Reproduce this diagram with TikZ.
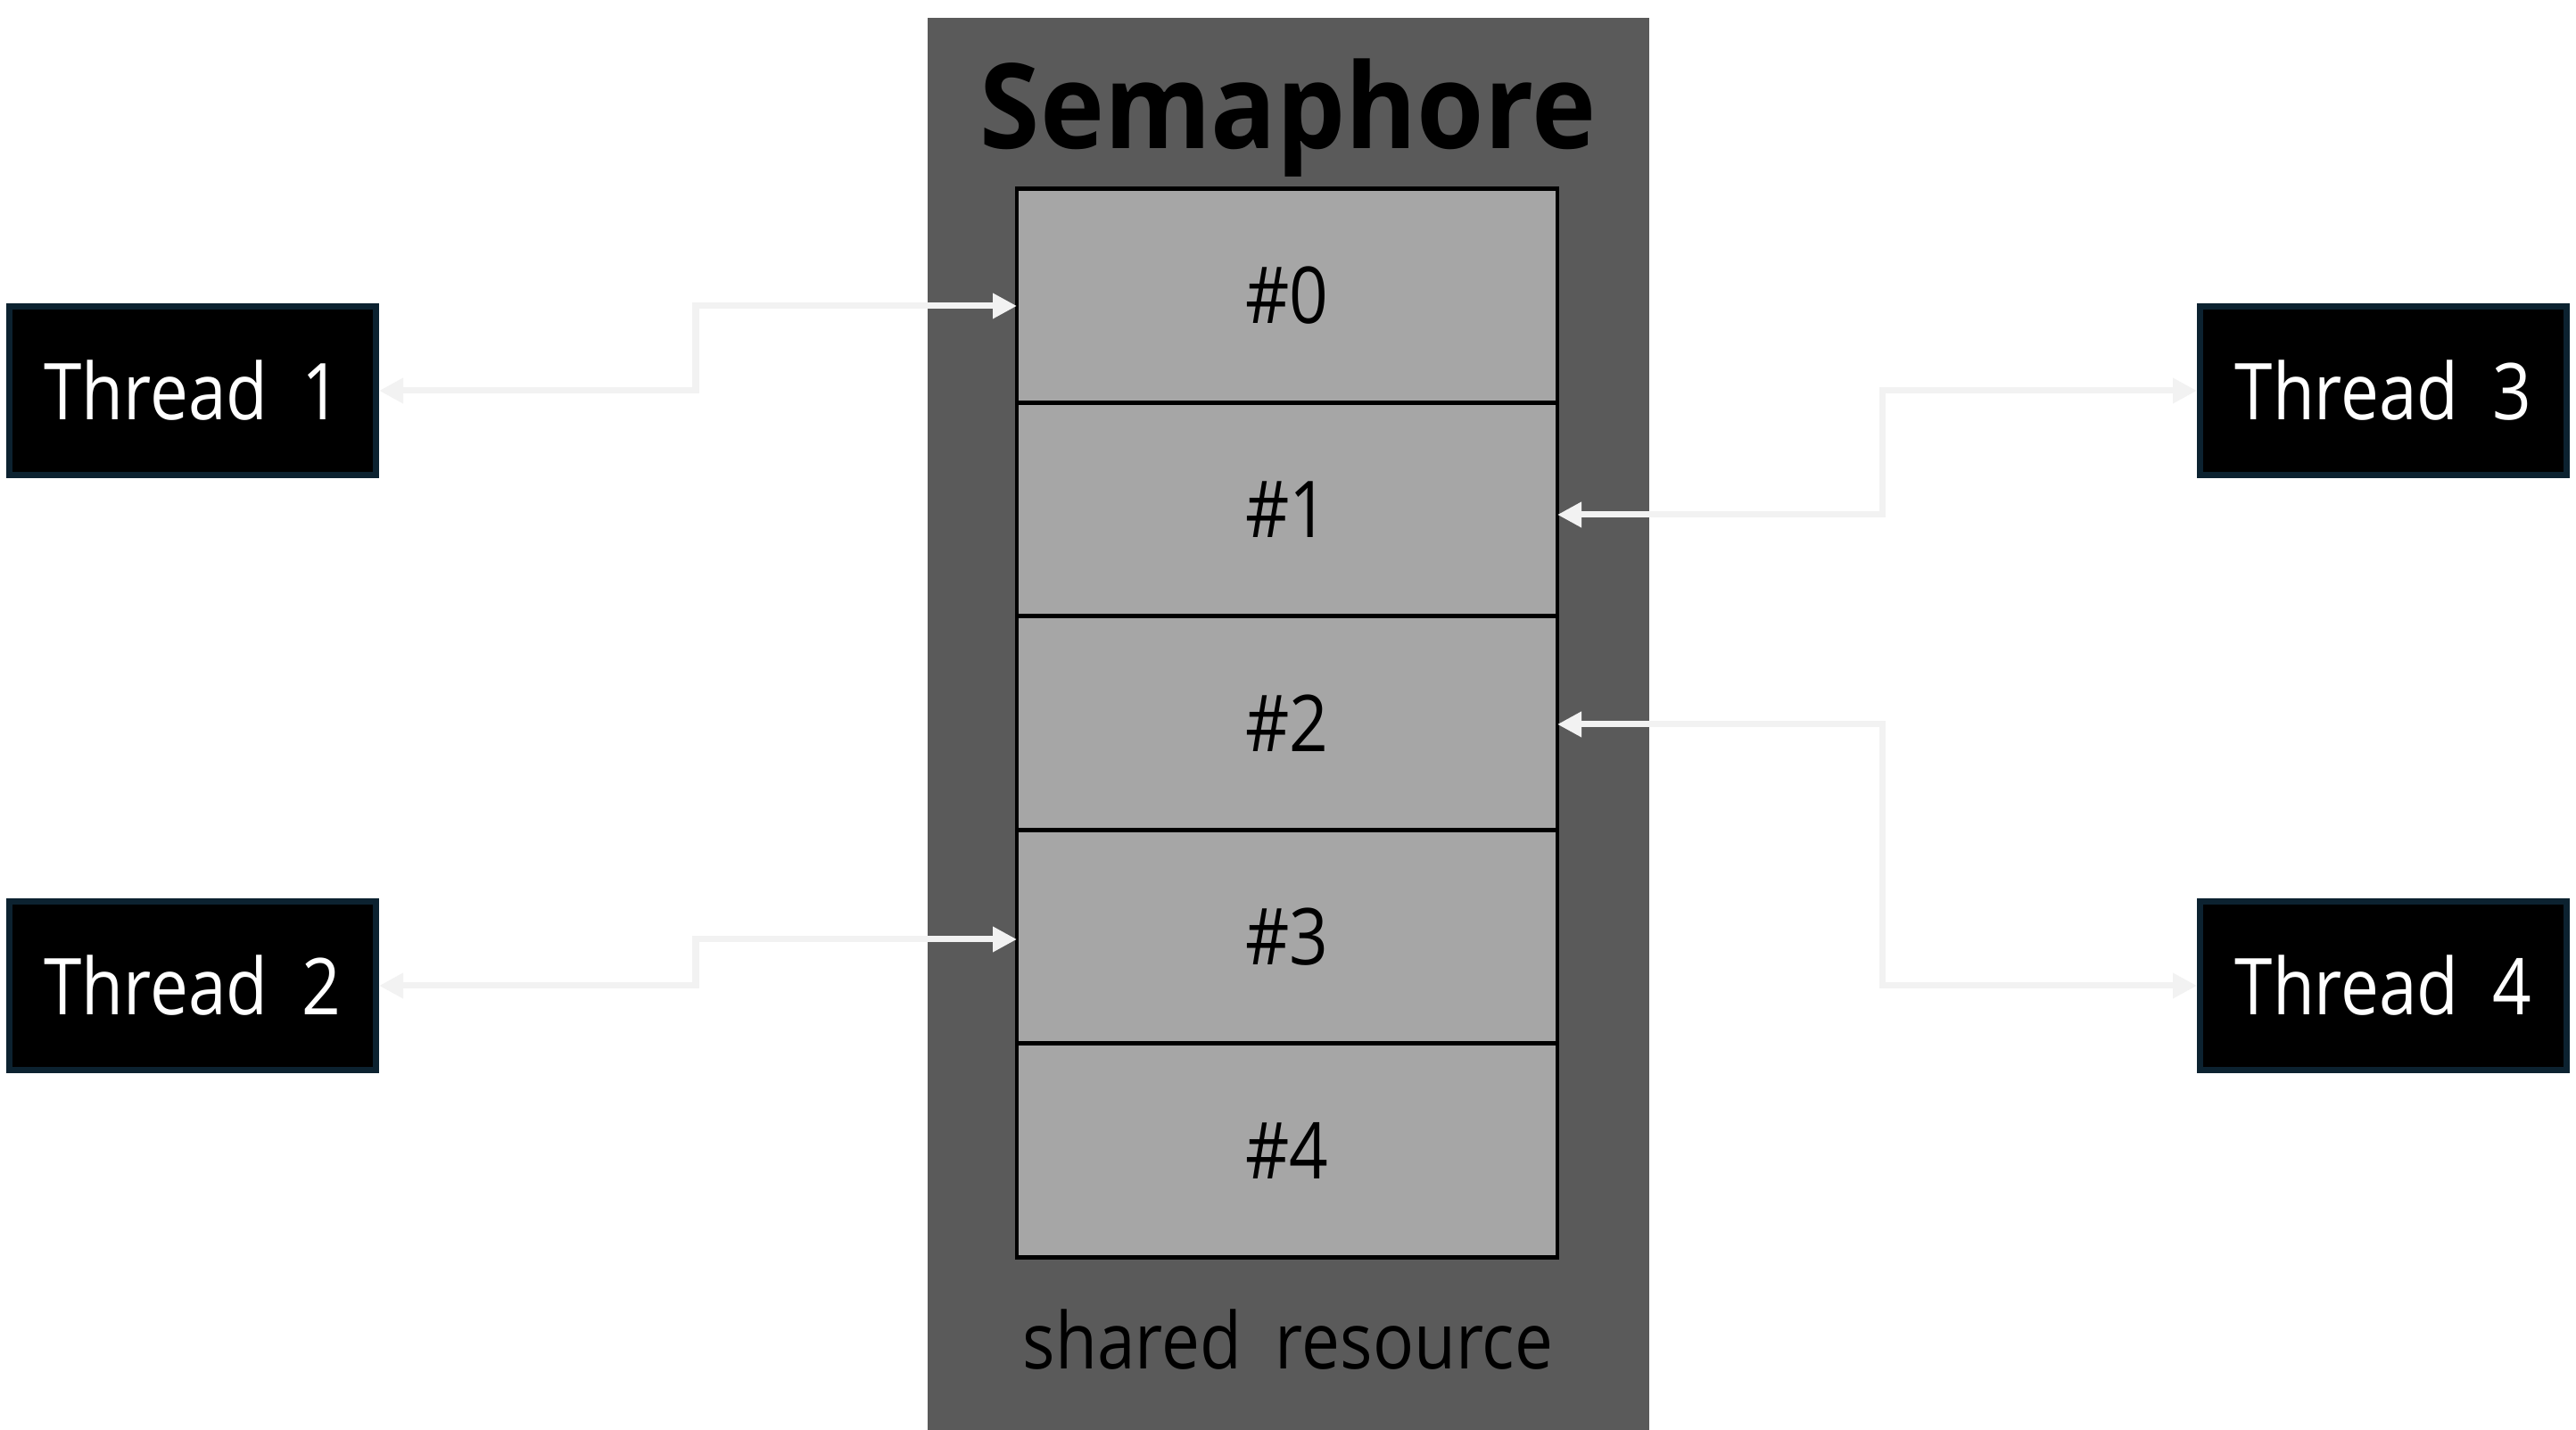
\documentclass[tikz,border=0pt]{standalone}
\usepackage{fontspec}
\setmainfont{Open Sans}[FakeStretch=0.87, WordSpace=1.9]
\newfontfamily\titlefont{Open Sans}[FakeStretch=0.92]
\usetikzlibrary{arrows.meta,positioning}

\definecolor{semgray}{HTML}{5A5A5A}
\definecolor{cellgray}{HTML}{A6A6A6}
\definecolor{threadedge}{RGB}{12,34,48}
\definecolor{linkgray}{HTML}{F2F2F2}

\begin{document}
\begin{tikzpicture}[
    >={Triangle[length=0.27cm,width=0.27cm]},
    cell/.style = {
      draw = black,
      fill = cellgray,
      line width = 1.4pt,
      outer sep = 0pt,
      minimum width = 6.06cm,
      minimum height = 2.395cm,
      font = \fontsize{25}{30}\selectfont
    },
    thread/.style = {
      draw = threadedge,
      fill = black,
      text = white,
      line width = 2pt,
      minimum width = 4.11cm,
      minimum height = 1.89cm,
      font = \fontsize{25}{30}\selectfont
    },
    link/.style = {
      <->,
      draw = linkgray,
      line width = 2pt
    }
  ]
  \useasboundingbox (0,0) rectangle (28.88,16.03);

  % semaphore block
  \fill[semgray] (10.40,0) rectangle (18.49,15.83);
  \node[anchor=base, font=\titlefont\bfseries\fontsize{37.7}{42}\selectfont] (title) at (14.44,14.36) {Semaphore};

  \node[cell] (c0) at (14.43,12.715) {\#0};
  \node[cell, below=0pt of c0] (c1) {\#1};
  \node[cell, below=0pt of c1] (c2) {\#2};
  \node[cell, below=0pt of c2] (c3) {\#3};
  \node[cell, below=0pt of c3] (c4) {\#4};

  \node[anchor=base, font=\fontsize{25}{30}\selectfont] (res) at (14.44,0.68) {shared resource};

  % threads
  \node[thread] (t1) at (2.16,11.65) {Thread 1};
  \node[thread] (t2) at (2.16,4.98) {Thread 2};
  \node[thread] (t3) at (26.72,11.65) {Thread 3};
  \node[thread] (t4) at (26.72,4.98) {Thread 4};

  \coordinate (k1) at (7.80,12.60);
  \coordinate (k2) at (7.80,5.50);
  \coordinate (k3) at (21.10,10.26);
  \coordinate (k4) at (21.10,7.91);

  \draw[link] (t1.east) -| (k1) -- (c0.west |- k1);
  \draw[link] (t2.east) -| (k2) -- (c3.west |- k2);
  \draw[link] (t3.west) -| (k3) -- (c1.east |- k3);
  \draw[link] (t4.west) -| (k4) -- (c2.east |- k4);

\end{tikzpicture}
\end{document}
